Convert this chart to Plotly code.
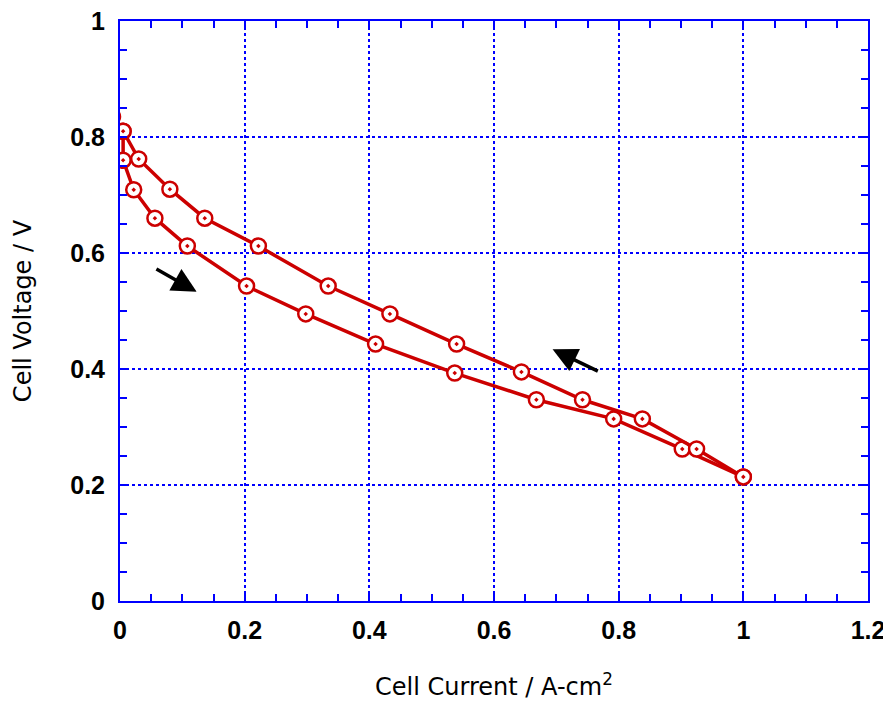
import plotly.graph_objects as go

# Forward sweep (lower branch), current in A/cm^2, voltage in V
current_fwd = [-0.012, 0.005, 0.005, 0.022, 0.056, 0.108, 0.203, 0.298, 0.410, 0.537, 0.668, 0.792, 0.902, 1.000]
voltage_fwd = [0.835, 0.810, 0.760, 0.709, 0.660, 0.612, 0.543, 0.495, 0.443, 0.393, 0.347, 0.314, 0.262, 0.214]

# Reverse sweep (upper branch)
current_rev = [1.000, 0.925, 0.838, 0.742, 0.644, 0.540, 0.433, 0.334, 0.222, 0.136, 0.080, 0.030, 0.005]
voltage_rev = [0.214, 0.262, 0.314, 0.347, 0.395, 0.443, 0.495, 0.543, 0.612, 0.660, 0.710, 0.762, 0.810]

x_ticks = [0, 0.2, 0.4, 0.6, 0.8, 1, 1.2]
x_ticklabels = ["0", "0.2", "0.4", "0.6", "0.8", "1", "1.2"]
y_ticks = [0, 0.2, 0.4, 0.6, 0.8, 1]
y_ticklabels = ["0", "0.2", "0.4", "0.6", "0.8", "1"]

# Sweep-direction arrows: (tail_x, tail_y, head_x, head_y)
arrow_fwd = (0.056, 0.574, 0.123, 0.533)
arrow_rev = (0.769, 0.395, 0.694, 0.434)

RED = "#cc0000"
BLUE = "#0000ff"

fig = go.Figure()
marker = dict(symbol="circle-dot", size=15, color="white",
              line=dict(color=RED, width=2.5))
for xs, ys in [(current_fwd, voltage_fwd), (current_rev, voltage_rev)]:
    fig.add_trace(go.Scatter(x=xs, y=ys, mode="lines+markers",
                             line=dict(color=RED, width=3.5),
                             marker=marker, cliponaxis=True,
                             showlegend=False))

for tx, ty, hx, hy in [arrow_fwd, arrow_rev]:
    fig.add_annotation(x=hx, y=hy, ax=tx, ay=ty, xref="x", yref="y",
                       axref="x", ayref="y", text="", showarrow=True,
                       arrowhead=2, arrowsize=1.4, arrowwidth=3.5,
                       arrowcolor="black")

tick_font = dict(family="Liberation Sans", size=25, color="black", weight="bold")
title_font = dict(family="DejaVu Sans", size=24, color="black")

axis_common = dict(
    showline=True, linecolor=BLUE, linewidth=2, mirror="ticks",
    ticks="inside", tickcolor=BLUE, ticklen=7, tickwidth=2,
    showgrid=True, gridcolor=BLUE, griddash="dot", gridwidth=1.5,
    zeroline=False, automargin=False, ticklabeloverflow="allow",
    tickfont=tick_font,
    minor=dict(ticks="inside", ticklen=7, tickwidth=2, tickcolor=BLUE,
               dtick=0.05, showgrid=False),
)

fig.update_xaxes(range=[0, 1.2], tickvals=x_ticks, ticktext=x_ticklabels,
                 title=dict(text="Cell Current / A-cm<sup>2</sup>",
                            font=title_font, standoff=35),
                 ticklabelstandoff=6, **axis_common)
fig.update_yaxes(range=[0, 1], tickvals=y_ticks, ticktext=y_ticklabels,
                 title=dict(text="Cell Voltage / V",
                            font=title_font, standoff=32),
                 ticklabelstandoff=8, **axis_common)

# The page body has an 8px margin, so the figure is sized/offset to put the
# plot area where the reference has it.
fig.update_layout(width=883, height=693,
                  margin=dict(l=112, r=23, t=13, b=100),
                  paper_bgcolor="white", plot_bgcolor="white")

fig.write_html("out.html")
